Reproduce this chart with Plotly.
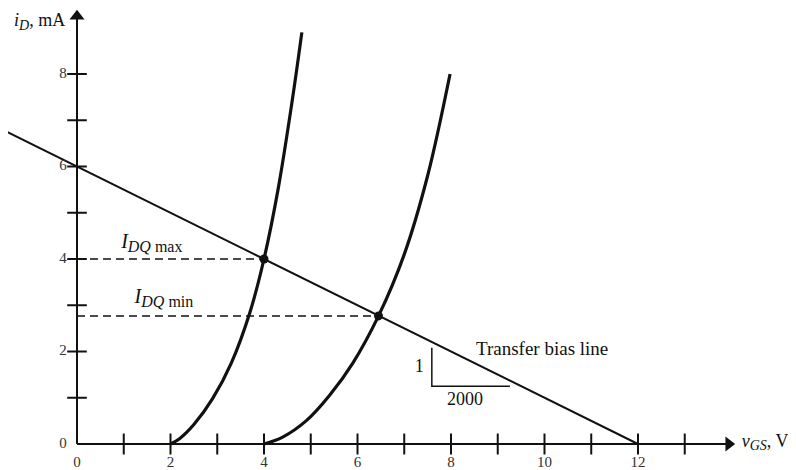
import plotly.graph_objects as go

# ---- data ----
bias_v = [-1.5, 12.0]
bias_i = [6.75, 0.0]

curve1_v = [2.0, 2.2, 2.5, 2.9, 3.3, 3.7, 4.0, 4.3, 4.6, 4.81]
curve1_i = [0.0, 0.12, 0.42, 0.98, 1.75, 2.85, 4.0, 5.5, 7.4, 8.9]

curve2_v = [4.0, 4.4, 4.9, 5.4, 5.9, 6.45, 7.0, 7.5, 7.98]
curve2_i = [0.0, 0.15, 0.5, 1.05, 1.75, 2.77, 4.1, 5.8, 8.0]

q_v = [4.0, 6.45]
q_i = [4.0, 2.77]

x_ticks = list(range(1, 14))
x_tick_labels = [0, 2, 4, 6, 8, 10, 12]
y_ticks = list(range(1, 9))
y_tick_labels = [0, 2, 4, 6, 8]

x_axis_end = 13.94   # arrowhead centre on v_GS axis
y_axis_end = 9.25    # arrowhead centre on i_D axis

slope_tri_v = [7.59, 7.59, 9.26]
slope_tri_i = [2.08, 1.25, 1.25]

FONT = "Liberation Serif, Times New Roman, serif"
BLACK = "#111111"

fig = go.Figure()

# axes
fig.add_trace(go.Scatter(x=[0, x_axis_end], y=[0, 0], mode="lines",
                         line=dict(color=BLACK, width=2), hoverinfo="skip"))
fig.add_trace(go.Scatter(x=[0, 0], y=[0, y_axis_end], mode="lines",
                         line=dict(color=BLACK, width=2), hoverinfo="skip"))
fig.add_trace(go.Scatter(x=[x_axis_end], y=[0], mode="markers",
                         marker=dict(symbol="triangle-right", size=13, color=BLACK),
                         hoverinfo="skip"))
fig.add_trace(go.Scatter(x=[0], y=[y_axis_end], mode="markers",
                         marker=dict(symbol="triangle-up", size=13, color=BLACK),
                         hoverinfo="skip"))

# dashed projections
for v, i in zip(q_v, q_i):
    fig.add_trace(go.Scatter(x=[0, v], y=[i, i], mode="lines",
                             line=dict(color=BLACK, width=1.5, dash="8px,5px"),
                             hoverinfo="skip"))

# bias line
fig.add_trace(go.Scatter(x=bias_v, y=bias_i, mode="lines",
                         line=dict(color=BLACK, width=2), hoverinfo="skip"))

# transfer curves
fig.add_trace(go.Scatter(x=curve1_v, y=curve1_i, mode="lines",
                         line=dict(color=BLACK, width=3.2, shape="spline"), hoverinfo="skip"))
fig.add_trace(go.Scatter(x=curve2_v, y=curve2_i, mode="lines",
                         line=dict(color=BLACK, width=3.2, shape="spline"), hoverinfo="skip"))

# Q points
fig.add_trace(go.Scatter(x=q_v, y=q_i, mode="markers",
                         marker=dict(color=BLACK, size=9), hoverinfo="skip"))

# slope triangle
fig.add_trace(go.Scatter(x=slope_tri_v, y=slope_tri_i, mode="lines",
                         line=dict(color=BLACK, width=1.5), hoverinfo="skip"))

# axis tick marks
fig.add_trace(go.Scatter(x=x_ticks, y=[0] * len(x_ticks), mode="markers",
                         marker=dict(symbol="line-ns", size=15,
                                     line=dict(color=BLACK, width=2)),
                         hoverinfo="skip"))
fig.add_trace(go.Scatter(x=[0] * len(y_ticks), y=y_ticks, mode="markers",
                         marker=dict(symbol="line-ew", size=14,
                                     line=dict(color=BLACK, width=2)),
                         hoverinfo="skip"))

# tick labels
fig.add_trace(go.Scatter(x=x_tick_labels, y=[-0.41] * len(x_tick_labels), mode="text",
                         text=[str(t) for t in x_tick_labels],
                         textfont=dict(family=FONT, size=15, color="#333"),
                         hoverinfo="skip"))
fig.add_trace(go.Scatter(x=[-0.22] * len(y_tick_labels), y=y_tick_labels, mode="text",
                         text=[str(t) for t in y_tick_labels], textposition="middle left",
                         textfont=dict(family=FONT, size=15, color="#333"),
                         hoverinfo="skip"))

# text labels
def sub(t, px):
    return "<sub><span style='font-size:%dpx'>%s</span></sub>" % (px, t)

labels = [
    (-0.8, 9.13, "<i>i</i>" + sub("<i>D</i>", 14) + ", mA", 18),
    (14.72, 0.04, "<i>v</i>" + sub("<i>GS</i>", 14) + ", V", 18),
    (1.6, 4.35, "<i>I</i>" + sub("<i>DQ</i> max", 16), 20),
    (1.86, 3.16, "<i>I</i>" + sub("<i>DQ</i> min", 16), 20),
    (9.95, 2.03, "Transfer bias line", 19),
    (7.32, 1.66, "1", 18),
    (8.3, 0.95, "2000", 18),
]
for x, y, t, s in labels:
    fig.add_trace(go.Scatter(x=[x], y=[y], mode="text", text=[t],
                             textfont=dict(family=FONT, size=s, color=BLACK),
                             hoverinfo="skip"))

fig.update_layout(
    width=788, height=462,
    margin=dict(l=0, r=0, t=0, b=0),
    paper_bgcolor="white", plot_bgcolor="white",
    showlegend=False,
    xaxis=dict(range=[-1.476, 15.38], visible=False),
    yaxis=dict(range=[-0.562, 9.427], visible=False),
)

fig.write_html("out.html", config={"displayModeBar": False})
